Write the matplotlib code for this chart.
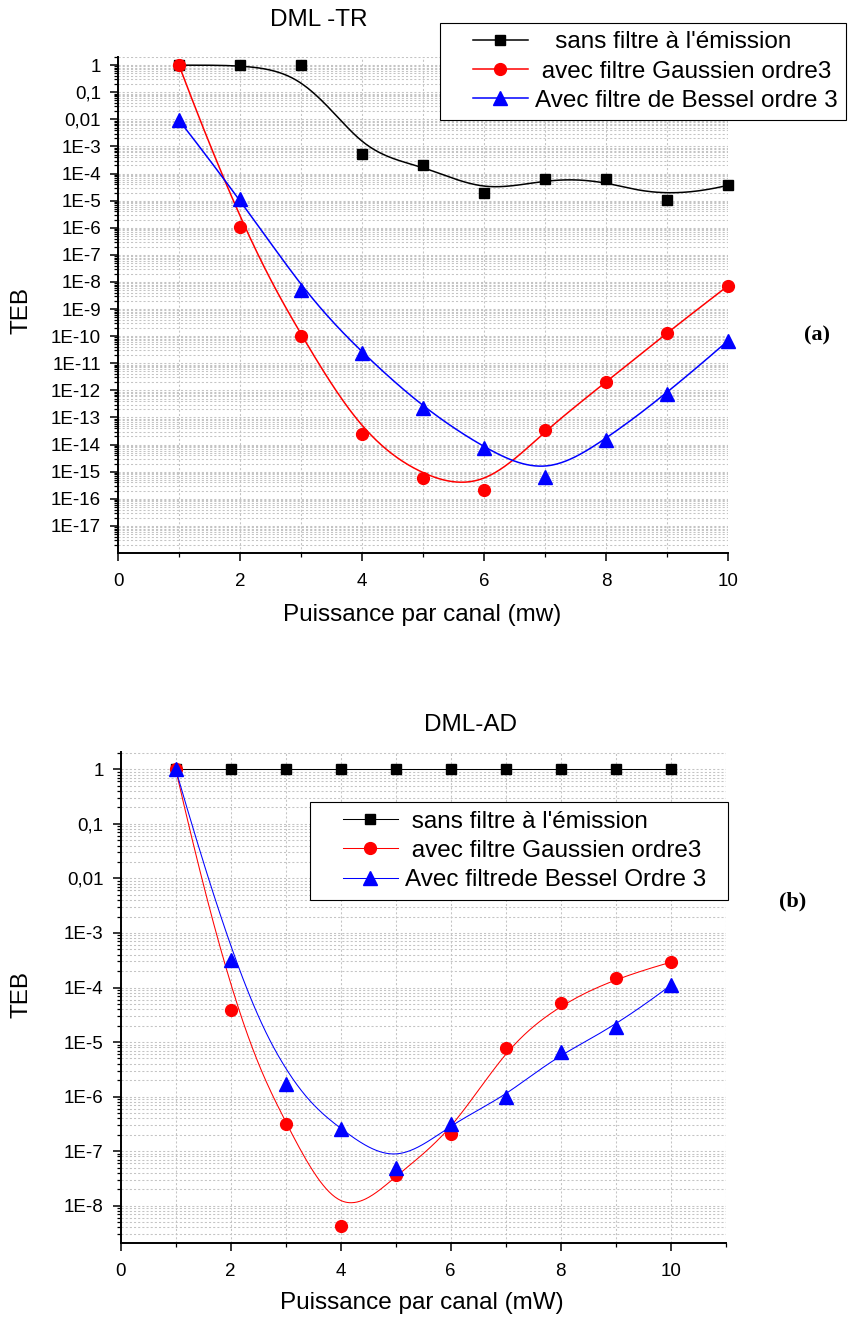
import numpy as np
import matplotlib
matplotlib.use("Agg")
import matplotlib.pyplot as plt
from matplotlib.lines import Line2D
from matplotlib.legend_handler import HandlerLine2D
from matplotlib.ticker import FixedLocator, LogLocator, NullFormatter

plt.rcParams["font.family"] = ["Liberation Sans", "DejaVu Sans"]

W, H = 850, 1318

# data
puissance = [1, 2, 3, 4, 5, 6, 7, 8, 9, 10]

tr_sans = [1, 1, 1, 5.2e-4, 2.1e-4, 1.9e-5, 6.3e-5, 6.3e-5, 1.07e-5, 3.7e-5]
tr_gauss = [1, 1.1e-6, 1e-10, 2.4e-14, 6e-16, 2.1e-16, 3.4e-14, 2e-12, 1.35e-10, 7.2e-9]
tr_bessel = [9.3e-3, 1.2e-5, 5.2e-9, 2.4e-11, 2.3e-13, 7.2e-15, 6.4e-16, 1.5e-14, 7.5e-13, 6.8e-11]

ad_sans = [1, 1, 1, 1, 1, 1, 1, 1, 1, 1]
ad_gauss = [1, 3.9e-5, 3.1e-7, 4.3e-9, 3.6e-8, 2.1e-7, 7.9e-6, 5.2e-5, 1.5e-4, 2.9e-4]
ad_bessel = [1, 3.2e-4, 1.7e-6, 2.5e-7, 5e-8, 3.2e-7, 1.0e-6, 6.6e-6, 1.9e-5, 1.1e-4]

tr_yticks = [1, 1e-1, 1e-2, 1e-3, 1e-4, 1e-5, 1e-6, 1e-7, 1e-8, 1e-9, 1e-10,
             1e-11, 1e-12, 1e-13, 1e-14, 1e-15, 1e-16, 1e-17]
tr_ylabels = ["1", "0,1", "0,01", "1E-3", "1E-4", "1E-5", "1E-6", "1E-7", "1E-8",
              "1E-9", "1E-10", "1E-11", "1E-12", "1E-13", "1E-14", "1E-15",
              "1E-16", "1E-17"]
ad_yticks = [1, 1e-1, 1e-2, 1e-3, 1e-4, 1e-5, 1e-6, 1e-7, 1e-8]
ad_ylabels = ["1", "0,1", "0,01", "1E-3", "1E-4", "1E-5", "1E-6", "1E-7", "1E-8"]
xticks = [0, 2, 4, 6, 8, 10]

tr_legend = ["   sans filtre à l'émission", " avec filtre Gaussien ordre3",
             "Avec filtre de Bessel ordre 3"]
ad_legend = [" sans filtre à l'émission  ", " avec filtre Gaussien ordre3  ",
             "Avec filtrede Bessel Ordre 3  "]


def bspline(xs, ys, n=400, k=3):
    # clamped uniform B-spline, data points used as control points (log space)
    px = np.asarray(xs, float)
    py = np.log10(np.asarray(ys, float))
    m = len(px)
    knots = np.r_[np.zeros(k), np.arange(m - k + 1), np.full(k, m - k)].astype(float)
    t = np.linspace(0, m - k, n)
    N = np.zeros((n, len(knots) - 1))
    for i in range(len(knots) - 1):
        N[:, i] = (knots[i] <= t) & (t < knots[i + 1])
    N[-1, m - 1] = 1.0
    for p in range(1, k + 1):
        Nn = np.zeros((n, len(knots) - 1 - p))
        for i in range(len(knots) - 1 - p):
            d1 = knots[i + p] - knots[i]
            d2 = knots[i + p + 1] - knots[i + 1]
            if d1 > 0:
                Nn[:, i] += (t - knots[i]) / d1 * N[:, i]
            if d2 > 0:
                Nn[:, i] += (knots[i + p + 1] - t) / d2 * N[:, i + 1]
        N = Nn
    return N @ px, 10 ** (N @ py)


def fx(p):
    return p / W


def fy(p):
    return 1 - p / H


styles = [("black", "s", 7.2), ("red", "o", 8.5), ("blue", "^", 10)]


def panel(box, xmax, ylim, yticks, ylabels, series, lw, labels, leg_xy):
    l, t, r, b = box
    ax = fig.add_axes([fx(l), fy(b), fx(r) - fx(l), fy(t) - fy(b)])
    ax.set_yscale("log")
    handles = []
    for ys, (c, m, ms) in zip(series, styles):
        cx, cy = bspline(puissance, ys)
        ax.plot(cx, cy, color=c, lw=lw, zorder=3)
        ax.plot(puissance, ys, ls="none", marker=m, ms=ms, color=c,
                mec=c, zorder=4, clip_on=False)
        handles.append(Line2D([], [], color=c, lw=lw, marker=m, ms=ms, mec=c))
    ax.set_xlim(0, xmax)
    ax.set_ylim(*ylim)
    ax.set_xticks(xticks)
    ax.set_xticks(np.arange(1, xmax + 1, 2), minor=True)
    ax.yaxis.set_major_locator(FixedLocator(yticks))
    ax.set_yticklabels(ylabels)
    ax.yaxis.set_minor_locator(LogLocator(base=10, subs=np.arange(2, 10), numticks=100))
    ax.yaxis.set_minor_formatter(NullFormatter())
    for s in ["top", "right"]:
        ax.spines[s].set_visible(False)
    for s in ["left", "bottom"]:
        ax.spines[s].set_linewidth(1.4)
    ax.tick_params(which="major", direction="out", length=5.8, width=1.1,
                   labelsize=13.5)
    ax.tick_params(axis="x", which="major", pad=8.5)
    ax.tick_params(axis="y", which="major", pad=6.5)
    ax.tick_params(which="minor", direction="out", length=2.8, width=0.9)
    ax.grid(which="both", color="#c4c4c4", lw=0.75, ls=(0, (2, 2)))
    ax.set_axisbelow(True)
    leg = ax.legend(handles, labels, loc="upper left",
                    bbox_to_anchor=(fx(leg_xy[0]), fy(leg_xy[1])),
                    bbox_transform=fig.transFigure, borderaxespad=0,
                    fontsize=17.5, fancybox=False, edgecolor="black",
                    framealpha=1, handlelength=3.25, handletextpad=0.3,
                    labelspacing=0.3, borderpad=0.35, numpoints=1,
                    handler_map={Line2D: HandlerLine2D(xpad=1.0)})
    leg.get_frame().set_linewidth(0.8)
    return ax


fig = plt.figure(figsize=(W / 100, H / 100), dpi=100)

panel((118, 57, 728, 553), 10, (1e-18, 2), tr_yticks, tr_ylabels,
      [tr_sans, tr_gauss, tr_bessel], 1.1, tr_legend, (440, 22.7))
panel((120.7, 751.7, 725.7, 1242.7), 11, (2.1e-9, 2.1), ad_yticks, ad_ylabels,
      [ad_sans, ad_gauss, ad_bessel], 0.75, ad_legend, (310, 802))

txt = dict(ha="center", va="center", fontsize=17.5)
fig.text(fx(319), fy(20), "DML -TR", **txt)
fig.text(fx(471), fy(725), "DML-AD", **txt)
fig.text(fx(422), fy(615), "Puissance par canal (mw)", **txt)
fig.text(fx(422), fy(1303), "Puissance par canal (mW)", **txt)
fig.text(fx(22), fy(310), "TEB", rotation=90, **txt)
fig.text(fx(22), fy(995), "TEB", rotation=90, **txt)
fig.text(fx(817), fy(335), "(a)", ha="center", va="center", fontsize=16,
         fontweight="bold", family="Liberation Serif")
fig.text(fx(793), fy(901), "(b)", ha="center", va="center", fontsize=16,
         fontweight="bold", family="Liberation Serif")

fig.savefig("out.png", dpi=100)
